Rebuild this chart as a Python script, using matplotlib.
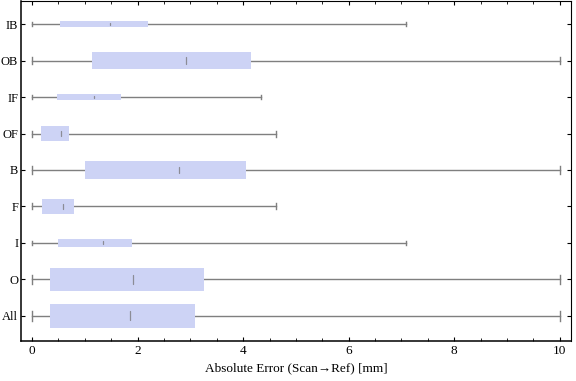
import numpy as np
from matplotlib import pyplot as plt
from matplotlib.ticker import MultipleLocator

# Data (top to bottom)
labels = ['IB', 'OB', 'IF', 'OF', 'B', 'F', 'I', 'O', 'All']
q1 = [0.52, 1.13, 0.47, 0.17, 1.00, 0.19, 0.50, 0.34, 0.34]
median = [1.47, 2.92, 1.17, 0.54, 2.79, 0.59, 1.34, 1.92, 1.86]
q3 = [2.19, 4.15, 1.68, 0.70, 4.05, 0.79, 1.89, 3.25, 3.08]
wlo = [0, 0, 0, 0, 0, 0, 0, 0, 0]
whi = [7.08, 10, 4.33, 4.62, 10, 4.62, 7.08, 10, 10]
# box thickness (relative to category spacing)
width = [0.16, 0.47, 0.14, 0.41, 0.49, 0.41, 0.22, 0.63, 0.66]

plt.rcParams['font.family'] = ['Liberation Serif', 'DejaVu Serif']

fig = plt.figure(figsize=(5.76, 3.81), dpi=100)
ax = fig.add_axes([0.0365, 0.105, 0.9545, 0.892])

n = len(labels)
ypos = np.arange(n, 0, -1)
box_color = '#cdd3f5'
line_color = '#7f7f7f'

for i in range(n):
    y = ypos[i]
    w = width[i]
    cap = max(w * 0.2, 0.055)
    # whisker
    ax.plot([wlo[i], whi[i]], [y, y], color=line_color, lw=1, zorder=1)
    ax.plot([wlo[i], wlo[i]], [y - cap, y + cap], color=line_color, lw=1, zorder=1)
    ax.plot([whi[i], whi[i]], [y - cap, y + cap], color=line_color, lw=1, zorder=1)
    # box
    ax.barh(y, q3[i] - q1[i], left=q1[i], height=w, color=box_color,
            edgecolor='none', zorder=2)
    # median mark
    mh = max(w * 0.19, 0.02)
    ax.plot([median[i], median[i]], [y - mh, y + mh], color='#8c8c96',
            lw=0.9, solid_capstyle='round', zorder=3)

ax.set_xlim(-0.21, 10.21)
ax.set_ylim(0.31, 9.63)
ax.set_yticks(ypos)
ax.set_yticklabels(labels)
ax.xaxis.set_major_locator(MultipleLocator(2))
ax.xaxis.set_minor_locator(MultipleLocator(0.5))
ax.tick_params(axis='both', which='major', direction='in', length=3,
               top=True, right=True, labelsize=9.5, pad=3, width=0.8)
ax.tick_params(axis='y', which='major', labelsize=9, pad=2)
ax.tick_params(axis='x', which='minor', direction='in', length=2,
               top=True, width=0.6)
for s in ['left', 'bottom']:
    ax.spines[s].set_linewidth(1.1)
for s in ['top', 'right']:
    ax.spines[s].set_linewidth(0.8)

ax.set_xlabel("Absolute Error (Scan\u2192Ref) [mm]", fontsize=9.5, labelpad=4)

plt.savefig("out.png", dpi=100)
